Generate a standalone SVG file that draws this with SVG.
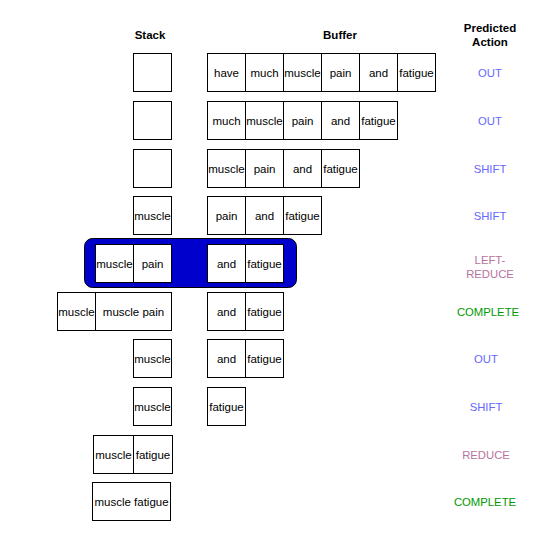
<svg xmlns="http://www.w3.org/2000/svg" width="544" height="537" viewBox="0 0 544 537">
<style>
.c{fill:#fff;stroke:#000;stroke-width:1}
.t{font-family:"Liberation Sans",Arial,sans-serif;font-size:11.5px;fill:#000;text-anchor:middle}
.h{font-family:"Liberation Sans",Arial,sans-serif;font-size:11.5px;font-weight:bold;fill:#000;text-anchor:middle}
.a{font-family:"Liberation Sans",Arial,sans-serif;font-size:11.3px;text-anchor:middle}
.b{fill:#6666ff}.r{fill:#b5739d}.g{fill:#009900}
</style>
<rect width="544" height="537" fill="#fff"/>
<g id="headers">
<text class="h" x="150" y="39">Stack</text>
<text class="h" x="340" y="39">Buffer</text>
<text class="h" x="490" y="32">Predicted</text>
<text class="h" x="490" y="46">Action</text>
</g>
<g id="highlight"><rect x="84.5" y="238.5" width="212" height="49" rx="8" fill="#0000cc" stroke="#000"/></g>
<g id="connectors"></g>
<!-- row 1 -->
<g id="r1">
<g id="r1s"><rect class="c" x="133.5" y="53.5" width="38" height="38"/></g>
<g id="r1b1"><rect class="c" x="207.5" y="53.5" width="38" height="38"/><text class="t" x="226.5" y="76.5">have</text></g>
<g id="r1b2"><rect class="c" x="245.5" y="53.5" width="38" height="38"/><text class="t" x="264.5" y="76.5">much</text></g>
<g id="r1b3"><rect class="c" x="283.5" y="53.5" width="38" height="38"/><text class="t" x="302.5" y="76.5">muscle</text></g>
<g id="r1b4"><rect class="c" x="321.5" y="53.5" width="38" height="38"/><text class="t" x="340.5" y="76.5">pain</text></g>
<g id="r1b5"><rect class="c" x="359.5" y="53.5" width="38" height="38"/><text class="t" x="378.5" y="76.5">and</text></g>
<g id="r1b6"><rect class="c" x="397.5" y="53.5" width="38" height="38"/><text class="t" x="416.5" y="76.5">fatigue</text></g>
<g id="r1a"><text class="a b" x="490" y="76.5">OUT</text></g>
</g>
<!-- row 2 -->
<g id="r2">
<g id="r2s"><rect class="c" x="133.5" y="101.5" width="38" height="38"/></g>
<g id="r2b1"><rect class="c" x="207.5" y="101.5" width="38" height="38"/><text class="t" x="226.5" y="124.5">much</text></g>
<g id="r2b2"><rect class="c" x="245.5" y="101.5" width="38" height="38"/><text class="t" x="264.5" y="124.5">muscle</text></g>
<g id="r2b3"><rect class="c" x="283.5" y="101.5" width="38" height="38"/><text class="t" x="302.5" y="124.5">pain</text></g>
<g id="r2b4"><rect class="c" x="321.5" y="101.5" width="38" height="38"/><text class="t" x="340.5" y="124.5">and</text></g>
<g id="r2b5"><rect class="c" x="359.5" y="101.5" width="38" height="38"/><text class="t" x="378.5" y="124.5">fatigue</text></g>
<g id="r2a"><text class="a b" x="490" y="124.5">OUT</text></g>
</g>
<!-- row 3 -->
<g id="r3">
<g id="r3s"><rect class="c" x="133.5" y="149.5" width="38" height="38"/></g>
<g id="r3b1"><rect class="c" x="207.5" y="149.5" width="38" height="38"/><text class="t" x="226.5" y="172.5">muscle</text></g>
<g id="r3b2"><rect class="c" x="245.5" y="149.5" width="38" height="38"/><text class="t" x="264.5" y="172.5">pain</text></g>
<g id="r3b3"><rect class="c" x="283.5" y="149.5" width="38" height="38"/><text class="t" x="302.5" y="172.5">and</text></g>
<g id="r3b4"><rect class="c" x="321.5" y="149.5" width="38" height="38"/><text class="t" x="340.5" y="172.5">fatigue</text></g>
<g id="r3a"><text class="a b" x="490" y="172.5">SHIFT</text></g>
</g>
<!-- row 4 -->
<g id="r4">
<g id="r4s"><rect class="c" x="133.5" y="196.5" width="38" height="38"/><text class="t" x="152.5" y="219.5">muscle</text></g>
<g id="r4b1"><rect class="c" x="207.5" y="196.5" width="38" height="38"/><text class="t" x="226.5" y="219.5">pain</text></g>
<g id="r4b2"><rect class="c" x="245.5" y="196.5" width="38" height="38"/><text class="t" x="264.5" y="219.5">and</text></g>
<g id="r4b3"><rect class="c" x="283.5" y="196.5" width="38" height="38"/><text class="t" x="302.5" y="219.5">fatigue</text></g>
<g id="r4a"><text class="a b" x="490" y="219.5">SHIFT</text></g>
</g>
<!-- row 5 -->
<g id="r5">
<g id="r5s1"><rect class="c" x="95.5" y="244.5" width="38" height="38"/><text class="t" x="114.5" y="267.5">muscle</text></g>
<g id="r5s2"><rect class="c" x="133.5" y="244.5" width="38" height="38"/><text class="t" x="152.5" y="267.5">pain</text></g>
<g id="r5b1"><rect class="c" x="207.5" y="244.5" width="38" height="38"/><text class="t" x="226.5" y="267.5">and</text></g>
<g id="r5b2"><rect class="c" x="245.5" y="244.5" width="38" height="38"/><text class="t" x="264.5" y="267.5">fatigue</text></g>
<g id="r5a"><text class="a r" x="490" y="264">LEFT-</text><text class="a r" x="490" y="277.5">REDUCE</text></g>
</g>
<!-- row 6 -->
<g id="r6">
<g id="r6s1"><rect class="c" x="57.5" y="292.5" width="38" height="38"/><text class="t" x="76.5" y="315.5">muscle</text></g>
<g id="r6s2"><rect class="c" x="95.5" y="292.5" width="76" height="38"/><text class="t" x="133.5" y="315.5">muscle pain</text></g>
<g id="r6b1"><rect class="c" x="207.5" y="292.5" width="38" height="38"/><text class="t" x="226.5" y="315.5">and</text></g>
<g id="r6b2"><rect class="c" x="245.5" y="292.5" width="38" height="38"/><text class="t" x="264.5" y="315.5">fatigue</text></g>
<g id="r6a"><text class="a g" x="488" y="315.5">COMPLETE</text></g>
</g>
<!-- row 7 -->
<g id="r7">
<g id="r7s"><rect class="c" x="133.5" y="339.5" width="38" height="38"/><text class="t" x="152.5" y="362.5">muscle</text></g>
<g id="r7b1"><rect class="c" x="207.5" y="339.5" width="38" height="38"/><text class="t" x="226.5" y="362.5">and</text></g>
<g id="r7b2"><rect class="c" x="245.5" y="339.5" width="38" height="38"/><text class="t" x="264.5" y="362.5">fatigue</text></g>
<g id="r7a"><text class="a b" x="486" y="362.5">OUT</text></g>
</g>
<!-- row 8 -->
<g id="r8">
<g id="r8s"><rect class="c" x="133.5" y="387.5" width="38" height="38"/><text class="t" x="152.5" y="410.5">muscle</text></g>
<g id="r8b1"><rect class="c" x="207.5" y="387.5" width="38" height="38"/><text class="t" x="226.5" y="410.5">fatigue</text></g>
<g id="r8a"><text class="a b" x="486" y="410.5">SHIFT</text></g>
</g>
<!-- row 9 -->
<g id="r9">
<g id="r9s1"><rect class="c" x="93.5" y="435.5" width="40" height="38"/><text class="t" x="113.5" y="458.5">muscle</text></g>
<g id="r9s2"><rect class="c" x="133.5" y="435.5" width="39" height="38"/><text class="t" x="153" y="458.5">fatigue</text></g>
<g id="r9a"><text class="a r" x="486" y="458.5">REDUCE</text></g>
</g>
<!-- row 10 -->
<g id="r10">
<g id="r10s"><rect class="c" x="92.5" y="482.5" width="78" height="38"/><text class="t" x="131.5" y="505.5">muscle fatigue</text></g>
<g id="r10a"><text class="a g" x="485" y="505.5">COMPLETE</text></g>
</g>
</svg>
